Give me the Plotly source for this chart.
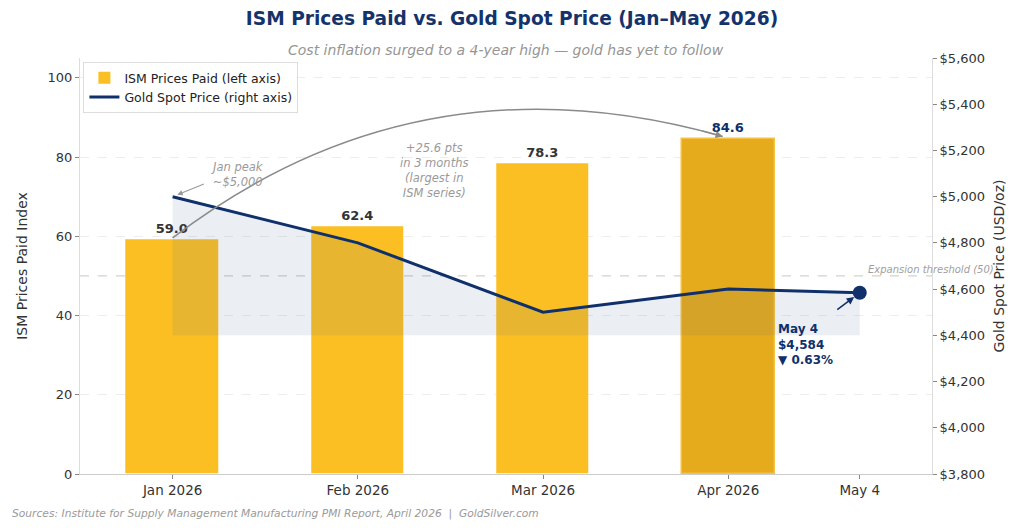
import plotly.graph_objects as go

# ---- data ----
months = ["Jan 2026", "Feb 2026", "Mar 2026", "Apr 2026"]
ism_values = [59.0, 62.4, 78.3, 84.6]
gold_labels = ["Jan 2026", "Feb 2026", "Mar 2026", "Apr 2026", "May 4"]
gold_prices = [5000, 4800, 4500, 4600, 4584]
x_pos = [0, 1, 2, 3, 3.71]          # category positions (May 4 is a partial month)
tick_labels = ["Jan 2026", "Feb 2026", "Mar 2026", "Apr 2026", "May 4"]
right_ticks = [3800, 4000, 4200, 4400, 4600, 4800, 5000, 5200, 5400, 5600]
fill_base = 4400
threshold = 50

NAVY = "#10306B"
GOLD = "#FBBF24"
GOLD_DARK = "#E6AB1C"
FONT = "DejaVu Sans"

fig = go.Figure()

bar_colors = [GOLD, GOLD, GOLD, GOLD_DARK]
fig.add_trace(go.Bar(
    x=x_pos[:4], y=ism_values, width=0.5,
    marker=dict(color=bar_colors, line=dict(color=["rgba(0,0,0,0)"] * 3 + ["#F5C242"], width=1.5)),
    name="ISM Prices Paid (left axis)", yaxis="y", legendrank=1,
    text=[f"<b>{v:.1f}</b>" for v in ism_values], textposition="outside",
    textfont=dict(family=FONT, size=13, color=["#333333"] * 3 + [NAVY]),
    cliponaxis=False,
))

# shaded region between gold line and baseline
fig.add_trace(go.Scatter(
    x=x_pos, y=[fill_base] * len(x_pos), yaxis="y2", mode="lines",
    line=dict(width=0, color="rgba(0,0,0,0)"), showlegend=False, hoverinfo="skip"))
fig.add_trace(go.Scatter(
    x=x_pos, y=gold_prices, yaxis="y2", mode="lines", fill="tonexty",
    fillcolor="rgba(70,100,140,0.11)", line=dict(width=0, color="rgba(0,0,0,0)"),
    showlegend=False, hoverinfo="skip"))

fig.add_trace(go.Scatter(
    x=x_pos, y=gold_prices, yaxis="y2", mode="lines", legendrank=2,
    line=dict(color=NAVY, width=3), name="Gold Spot Price (right axis)"))
fig.add_trace(go.Scatter(
    x=[x_pos[-1]], y=[gold_prices[-1]], yaxis="y2", mode="markers",
    marker=dict(color=NAVY, size=14), showlegend=False))

# threshold line
fig.add_shape(type="line", xref="paper", x0=0, x1=1, yref="y", y0=threshold, y1=threshold,
              line=dict(color="#D2D2D2", width=1.2, dash="dash"), layer="below")

# curved arrow from Jan to Apr
fig.add_shape(type="path", xref="x", yref="y",
              path="M 0,59.6 Q 1.33,107 2.97,85.2",
              line=dict(color="#8A8A8A", width=1.5))

annotations = [
    dict(x=2.97, y=85.2, xref="x", yref="y", ax=-22, ay=-6, text="", showarrow=True,
         arrowhead=2, arrowsize=1.1, arrowwidth=1.3, arrowcolor="#8A8A8A", standoff=0),
    dict(x=1.41, y=76.5, xref="x", yref="y", showarrow=False,
         text="<i>+25.6 pts<br>in 3 months<br>(largest in<br>ISM series)</i>",
         font=dict(family=FONT, size=11.5, color="#9A9A9A"), align="center"),
    dict(x=0.35, y=75.5, xref="x", yref="y", showarrow=False,
         text="<i>Jan peak<br>~$5,000</i>",
         font=dict(family=FONT, size=11.5, color="#9A9A9A"), align="center"),
    dict(x=0.015, y=5005, xref="x", yref="y2", ax=30, ay=-12, text="", showarrow=True,
         arrowhead=2, arrowsize=1, arrowwidth=1.1, arrowcolor="#9A9A9A", standoff=2),
    dict(x=3.71, y=4584, xref="x", yref="y2", ax=-24, ay=18, text="", showarrow=True,
         arrowhead=2, arrowsize=1, arrowwidth=1.5, arrowcolor=NAVY, standoff=7),
    dict(x=3.26, y=4465, xref="x", yref="y2", showarrow=False, xanchor="left", yanchor="top",
         text="<b>May 4<br>$4,584<br>▼ 0.63%</b>",
         font=dict(family=FONT, size=12, color=NAVY), align="left"),
    dict(x=1.075, y=threshold, xref="paper", yref="y", showarrow=False, xanchor="right",
         yanchor="bottom", yshift=-1, text="<i>Expansion threshold (50)</i>",
         font=dict(family=FONT, size=10, color="#A0A0A0")),
    dict(x=0.5, y=1.0, xref="paper", yref="paper", yshift=8, showarrow=False, yanchor="middle",
         text="<i>Cost inflation surged to a 4-year high — gold has yet to follow</i>",
         font=dict(family=FONT, size=14, color="#959595")),
    dict(x=-0.082, y=-0.096, xref="paper", yref="paper", showarrow=False, xanchor="left",
         yanchor="middle",
         text="<i>Sources: Institute for Supply Management Manufacturing PMI Report, April 2026  |  GoldSilver.com</i>",
         font=dict(family=FONT, size=10.7, color="#9A9A9A")),
]

fig.update_layout(
    width=1024, height=531,
    margin=dict(l=80, r=92, t=58, b=57),
    paper_bgcolor="white", plot_bgcolor="white",
    font=dict(family=FONT, color="#444444"),
    title=dict(text="<b>ISM Prices Paid vs. Gold Spot Price (Jan–May 2026)</b>",
               x=0.5, xanchor="center", y=0.965, yanchor="middle",
               font=dict(family=FONT, size=18.6, color="#15336B")),
    xaxis=dict(range=[-0.5, 4.1], tickmode="array", tickvals=x_pos, ticktext=tick_labels,
               showgrid=False, zeroline=False, showline=True, linecolor="#CCCCCC",
               ticks="outside", ticklen=4, tickcolor="#888888",
               tickfont=dict(family=FONT, size=13.5, color="#333333")),
    yaxis=dict(range=[0, 105], tickvals=[0, 20, 40, 60, 80, 100],
               showgrid=True, gridcolor="#EDEDED", griddash="dash", zeroline=False,
               showline=True, linecolor="#DDDDDD", ticks="outside", ticklen=4, tickcolor="#888888",
               tickfont=dict(family=FONT, size=13, color="#333333"),
               title=dict(text="ISM Prices Paid Index", font=dict(family=FONT, size=14, color="#333333"),
                          standoff=16)),
    yaxis2=dict(range=[3800, 5600], tickmode="array", tickvals=right_ticks,
                ticktext=[f"${v:,}" for v in right_ticks], overlaying="y", side="right",
                showgrid=False, zeroline=False,
                showline=True, linecolor="#DDDDDD", ticks="outside", ticklen=4, tickcolor="#888888",
                tickfont=dict(family=FONT, size=13, color="#333333"),
                title=dict(text="Gold Spot Price (USD/oz)", font=dict(family=FONT, size=14, color="#333333"),
                           standoff=10)),
    legend=dict(x=0.004, y=0.99, xanchor="left", yanchor="top", bgcolor="rgba(255,255,255,0.9)",
                bordercolor="#DDDDDD", borderwidth=1, font=dict(family=FONT, size=12.5, color="#222222"),
                tracegroupgap=2, traceorder="normal"),
    annotations=annotations,
    bargap=0,
    showlegend=True,
)

fig.write_html("out.html")
